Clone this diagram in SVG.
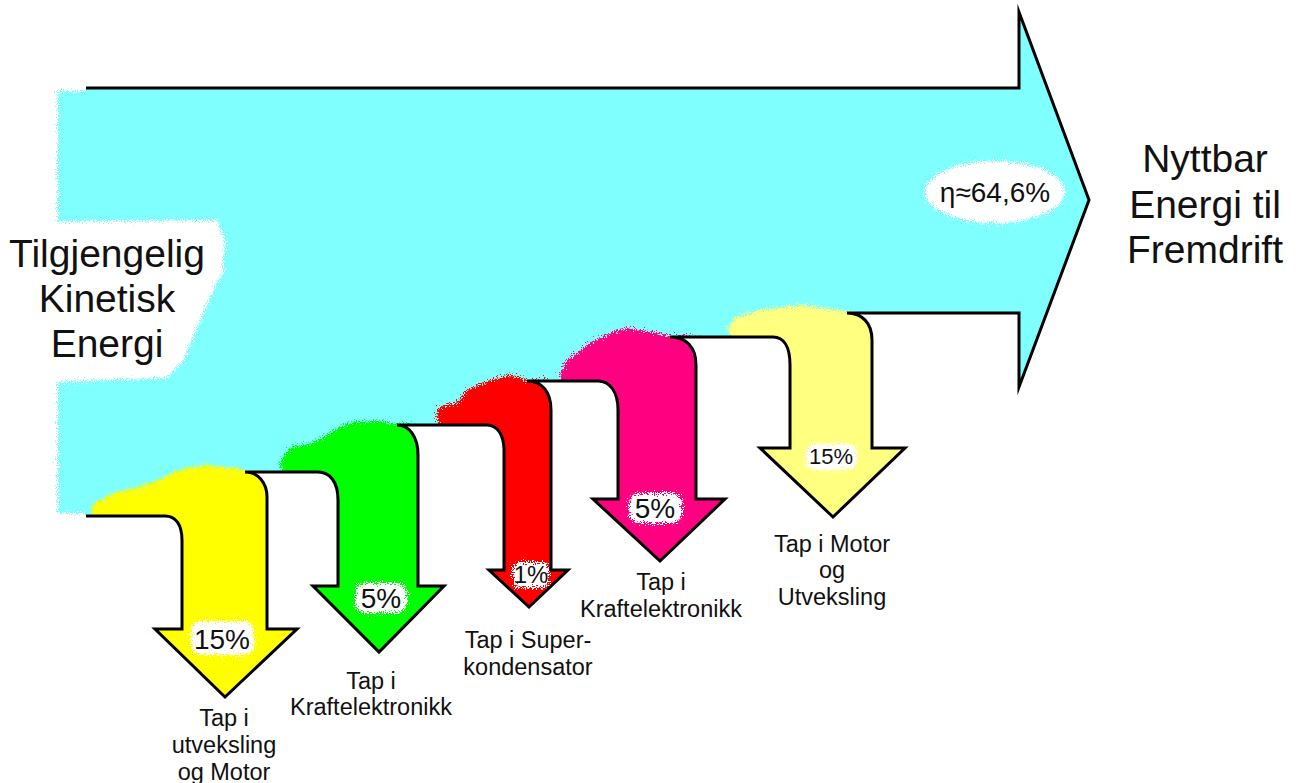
<svg xmlns="http://www.w3.org/2000/svg" width="1297" height="783" viewBox="0 0 1297 783">
<style>
.lbl{font-family:"Liberation Sans",Arial,sans-serif;fill:#111;text-anchor:middle}
.big{font-size:39px}
.sm{font-size:23.5px}
.pct{font-size:28px}
.edge{fill:none;stroke:#000;stroke-width:3;stroke-miterlimit:8}
.spray{filter:url(#spray)}
.blank{fill:#fff}
</style>
<defs>
<filter id="spray" x="-20%" y="-20%" width="140%" height="140%">
<feTurbulence type="fractalNoise" baseFrequency="0.9" numOctaves="2" seed="7" result="noise"/>
<feDisplacementMap in="SourceGraphic" in2="noise" scale="14" xChannelSelector="R" yChannelSelector="G"/>
</filter>
<path id="outline" d="M86,516 H165 C176,516 182,525 182,540 V629 H155 L225,697 L297,629 H267 V497 C267,483 258,472 245,472 H318 C330,472 338,482 338,500 V586 H313 L379,652 L444,586 H418 V455 C418,438 410,425 397,425 H487 C498,425 504,436 504,450 V570 H489 L529,607 L568,570 H551 V410 C551,392 542,381 527,381 H598 C610,381 618,392 618,410 V499 H593 L660,561 L725,499 H696 V365 C696,347 686,337 670,337 H773 C784,337 790,347 790,365 V448 H760 L833,517 L905,448 H872 V340 C872,323 862,313 847,313 H1019 V387 L1089,200 L1019,12 V88 H86"/>
<clipPath id="clipOutline"><use href="#outline"/></clipPath>
</defs>
<rect width="1297" height="783" fill="#fff"/>

<g id="main-flow">
<use href="#outline" fill="#80FFFF"/>
<rect class="spray" x="58" y="91" width="40" height="422" fill="#80FFFF"/>
</g>

<g id="branches" clip-path="url(#clipOutline)">
<path id="loss-gear-motor" class="spray" fill="#FFFF00" d="M92,520 L92,505 L113,493 L147,485 L180,470 L207,465 L237,469 L250,471 L280,476 L300,700 L150,700 L150,520 Z"/>
<path id="loss-power-electronics-1" class="spray" fill="#00FF00" d="M283,476 L280,462 L290,448 L313,443 L340,427 L352,422 L383,421 L397,424 L410,424 L430,430 L450,660 L305,660 L305,476 Z"/>
<path id="loss-supercapacitor" class="spray" fill="#FF0000" d="M440,429 L437,417 L438,408 L457,403 L467,390 L490,380 L510,375 L527,380 L545,380 L572,390 L575,615 L482,615 L482,429 Z"/>
<path id="loss-power-electronics-2" class="spray" fill="#FF0080" d="M563,385 L560,373 L567,360 L590,343 L610,333 L627,328 L653,332 L670,336 L690,336 L728,345 L732,570 L592,570 L592,385 Z"/>
<path id="loss-motor-gear" class="spray" fill="#FFFF80" d="M731,341 L728,325 L737,317 L760,310 L800,305 L837,310 L850,312 L880,318 L912,450 L835,525 L756,450 L756,341 Z"/>
</g>

<g id="label-backgrounds">
<path class="blank spray" d="M0,222 L217,220 L225,240 L223,272 L209,300 L196,330 L184,360 L167,378 L60,382 L0,382 Z"/>
<ellipse class="blank spray" cx="995" cy="192" rx="70" ry="31"/>
<rect class="blank spray" x="191" y="621" width="63" height="34" rx="10"/>
<rect class="blank spray" x="355" y="583" width="52" height="30" rx="10"/>
<rect class="blank spray" x="513" y="562" width="36" height="26" rx="8"/>
<rect class="blank spray" x="629" y="493" width="53" height="30" rx="10"/>
<rect class="blank spray" x="806" y="444" width="51" height="26" rx="9"/>
</g>

<g id="connectors">
<use href="#outline" class="edge"/>
</g>

<g id="source-label" class="lbl big">
<text x="107" y="267">Tilgjengelig</text>
<text x="107" y="312">Kinetisk</text>
<text x="107" y="357">Energi</text>
</g>
<g id="output-label" class="lbl big">
<text x="1205" y="172">Nyttbar</text>
<text x="1205" y="218">Energi til</text>
<text x="1205" y="263">Fremdrift</text>
</g>
<g id="efficiency" class="lbl pct">
<text x="995" y="202">η≈64,6%</text>
</g>

<g id="pct-labels" class="lbl pct">
<text x="222" y="649">15%</text>
<text x="381" y="608">5%</text>
<text x="531" y="583" style="font-size:24px">1%</text>
<text x="655" y="518">5%</text>
<text x="831" y="464" style="font-size:22px">15%</text>
</g>

<g id="loss-labels" class="lbl sm">
<text x="224" y="726">Tap i</text>
<text x="224" y="753">utveksling</text>
<text x="224" y="780">og Motor</text>
<text x="371" y="689">Tap i</text>
<text x="371" y="715">Kraftelektronikk</text>
<text x="528" y="648">Tap i Super-</text>
<text x="528" y="675">kondensator</text>
<text x="661" y="590">Tap i</text>
<text x="661" y="617">Kraftelektronikk</text>
<text x="832" y="552">Tap i Motor</text>
<text x="832" y="578">og</text>
<text x="832" y="605">Utveksling</text>
</g>
</svg>
